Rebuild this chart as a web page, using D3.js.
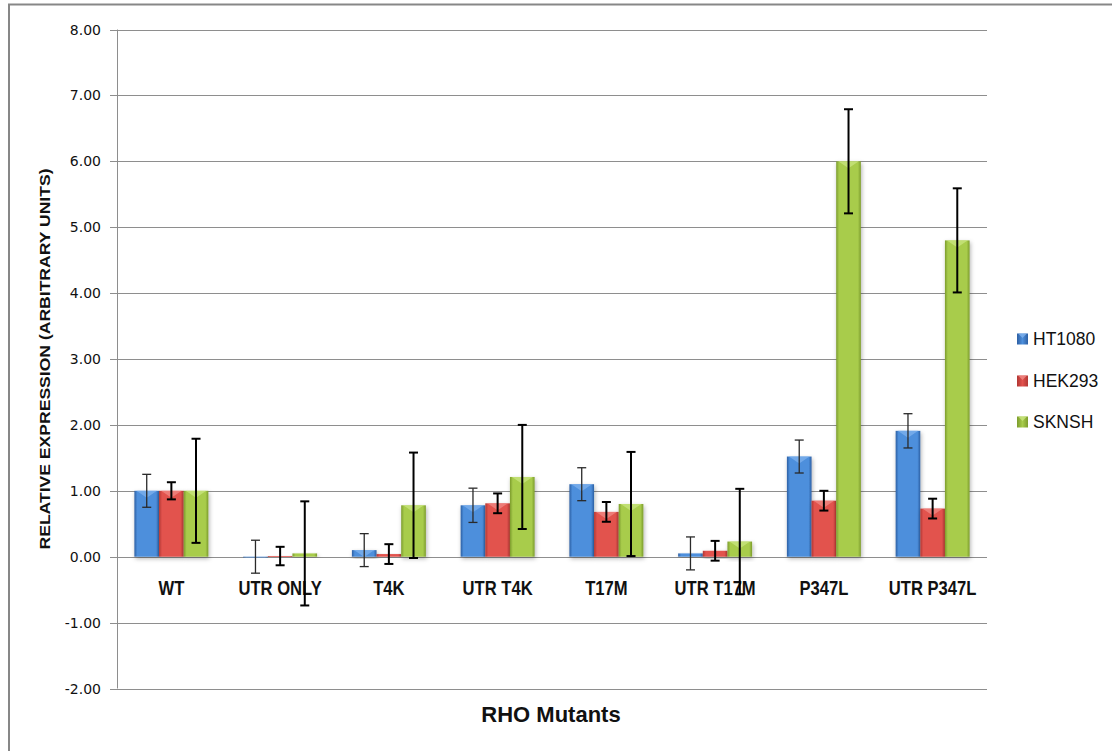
<!DOCTYPE html>
<html><head><meta charset="utf-8">
<script src="https://cdn.jsdelivr.net/npm/d3@7"></script>
<style>body{margin:0;background:#fff}svg{display:block}</style>
</head><body>
<svg id="chart" width="1112" height="751"></svg>
<script>
const categories = ["WT","UTR ONLY","T4K","UTR T4K","T17M","UTR T17M","P347L","UTR P347L"];
const seriesNames = ["HT1080","HEK293","SKNSH"];
const ht1080 = [1.00, 0.00, 0.10, 0.78, 1.10, 0.05, 1.52, 1.91];
const hek293 = [1.00, 0.01, 0.04, 0.81, 0.68, 0.09, 0.85, 0.73];
const sknsh  = [1.00, 0.05, 0.78, 1.21, 0.80, 0.23, 6.00, 4.80];
const ht1080Err = [0.25, 0.25, 0.25, 0.26, 0.25, 0.25, 0.25, 0.26];
const hek293Err = [0.13, 0.14, 0.15, 0.15, 0.15, 0.15, 0.15, 0.15];
const sknshErr  = [0.79, 0.79, 0.80, 0.79, 0.79, 0.80, 0.79, 0.79];
const yTicks = [-2,-1,0,1,2,3,4,5,6,7,8];
const yTitle = "RELATIVE EXPRESSION (ARBITRARY UNITS)";
const xTitle = "RHO Mutants";

const values = [ht1080, hek293, sknsh];
const errs = [ht1080Err, hek293Err, sknshErr];
const colors = [
  {edge:"#2d5fa3", mid:"#4d8fdc", hi:"#7fb2ee", legend:"#3a76c4"},
  {edge:"#b13733", mid:"#e2524d", hi:"#f08a86", legend:"#d0443f"},
  {edge:"#7c9c2c", mid:"#a8cc4c", hi:"#c9e680", legend:"#96bd3c"}
];
const errStyle = [{stroke:"#2a2a2a", w:1.3},{stroke:"#000", w:2},{stroke:"#000", w:2}];

const svg = d3.select("#chart");
const L = 117, R = 987, T = 29.5, B = 688.5;
const x = d3.scaleBand().domain(categories).range([L, R]).paddingInner(0.32).paddingOuter(0.16);
const xs = d3.scaleBand().domain(d3.range(3)).range([0, x.bandwidth()]).padding(0);
const y = d3.scaleLinear().domain([-2, 8]).range([B, T]);

const defs = svg.append("defs");
colors.forEach((c, i) => {
  const g = defs.append("linearGradient").attr("id", "g" + i).attr("x1", "0").attr("x2", "1").attr("y1", "0").attr("y2", "0");
  g.append("stop").attr("offset", "0").attr("stop-color", c.edge);
  g.append("stop").attr("offset", "0.12").attr("stop-color", c.mid);
  g.append("stop").attr("offset", "0.88").attr("stop-color", c.mid);
  g.append("stop").attr("offset", "1").attr("stop-color", c.edge);
  const lg = defs.append("linearGradient").attr("id", "l" + i).attr("x1", "0").attr("x2", "1");
  lg.append("stop").attr("offset", "0").attr("stop-color", c.edge);
  lg.append("stop").attr("offset", "0.5").attr("stop-color", c.mid);
  lg.append("stop").attr("offset", "1").attr("stop-color", c.edge);
});
const f = defs.append("filter").attr("id", "sh").attr("x", "-30%").attr("y", "-30%").attr("width", "160%").attr("height", "160%");
f.append("feDropShadow").attr("dx", 1).attr("dy", 2).attr("stdDeviation", 2).attr("flood-color", "#000").attr("flood-opacity", 0.3);

// outer border
svg.append("path").attr("d", `M9,751 V4.5 H1112`).attr("fill", "none").attr("stroke", "#878787").attr("stroke-width", 2);

// gridlines
svg.append("g").selectAll("line").data(yTicks).join("line")
  .attr("x1", L - 7).attr("x2", R).attr("y1", d => Math.round(y(d)) + 0.5).attr("y2", d => Math.round(y(d)) + 0.5)
  .attr("stroke", "#8e8e8e").attr("stroke-width", 1);
svg.append("line").attr("x1", L + 0.5).attr("x2", L + 0.5).attr("y1", y(8)).attr("y2", y(-2)).attr("stroke", "#8e8e8e");

// y tick labels
svg.append("g").selectAll("text").data(yTicks).join("text")
  .attr("x", 101).attr("y", d => y(d)).attr("dy", "0.36em").attr("text-anchor", "end")
  .attr("font-family", "DejaVu Sans, sans-serif").attr("font-size", 14).attr("fill", "#111")
  .text(d => d.toFixed(2));

// y title
svg.append("text").attr("transform", `translate(50,${(T + B) / 2}) rotate(-90)`)
  .attr("text-anchor", "middle").attr("font-family", "Liberation Sans, Arial, sans-serif").attr("font-weight", "bold")
  .attr("font-size", 15.5).attr("textLength", 381).attr("lengthAdjust", "spacingAndGlyphs").attr("fill", "#111").text(yTitle);

// x labels
const xl = svg.append("g").selectAll("text").data(categories).join("text")
  .attr("x", d => x(d) + x.bandwidth() / 2).attr("y", y(0) + 38).attr("text-anchor", "middle")
  .attr("font-family", "Liberation Sans, Arial, sans-serif").attr("font-weight", "bold").attr("font-size", 20)
  .attr("fill", "#111").text(d => d);
xl.each(function () { const w = this.getComputedTextLength(); d3.select(this).attr("textLength", w * 0.83).attr("lengthAdjust", "spacingAndGlyphs"); });

// x title
svg.append("text").attr("x", 551).attr("y", 722).attr("text-anchor", "middle")
  .attr("font-family", "Liberation Sans, Arial, sans-serif").attr("font-weight", "bold").attr("font-size", 22)
  .attr("fill", "#111").text(xTitle);

// bars
const bars = svg.append("g");
categories.forEach((c, ci) => {
  values.forEach((vals, si) => {
    const v = vals[ci];
    const bx = x(c) + xs(si), bw = xs.bandwidth();
    const y0 = y(0), y1 = y(v);
    const top = Math.min(y0, y1), h = Math.max(Math.abs(y0 - y1), 0.8);
    bars.append("rect").attr("x", bx).attr("y", top).attr("width", bw).attr("height", h)
      .attr("fill", `url(#g${si})`).attr("filter", "url(#sh)");
    if (h > 6) {
      bars.append("path").attr("d", `M${bx + 2},${top} L${bx + bw - 2},${top} L${bx + bw - 5},${top + 2} L${bx + bw / 2},${top + 7} L${bx + 5},${top + 2} Z`)
        .attr("fill", colors[si].hi).attr("opacity", 0.75);
    }
  });
});

// error bars
const eb = svg.append("g");
categories.forEach((c, ci) => {
  values.forEach((vals, si) => {
    const v = vals[ci], e = errs[si][ci];
    const cx = x(c) + xs(si) + xs.bandwidth() / 2;
    const st = errStyle[si];
    const yt = y(v + e), ybm = y(v - e);
    eb.append("line").attr("x1", cx).attr("x2", cx).attr("y1", yt).attr("y2", ybm).attr("stroke", st.stroke).attr("stroke-width", st.w);
    [yt, ybm].forEach(yy => eb.append("line").attr("x1", cx - 4.5).attr("x2", cx + 4.5).attr("y1", yy).attr("y2", yy).attr("stroke", st.stroke).attr("stroke-width", st.w));
  });
});

// legend
const lgY = [339, 381, 422];
const lg = svg.append("g");
seriesNames.forEach((s, i) => {
  lg.append("rect").attr("x", 1017).attr("y", lgY[i] - 5.5).attr("width", 11).attr("height", 11).attr("fill", `url(#l${i})`);
  lg.append("path").attr("d", `M1018,${lgY[i] - 5.5} L1027,${lgY[i] - 5.5} L1022.5,${lgY[i] - 1} Z`).attr("fill", colors[i].hi).attr("opacity", 0.8);
  lg.append("text").attr("x", 1033).attr("y", lgY[i]).attr("dy", "0.36em").attr("font-family", "Liberation Sans, Arial, sans-serif")
    .attr("font-size", 17.5).attr("fill", "#111").text(s);
});
</script>
</body></html>
